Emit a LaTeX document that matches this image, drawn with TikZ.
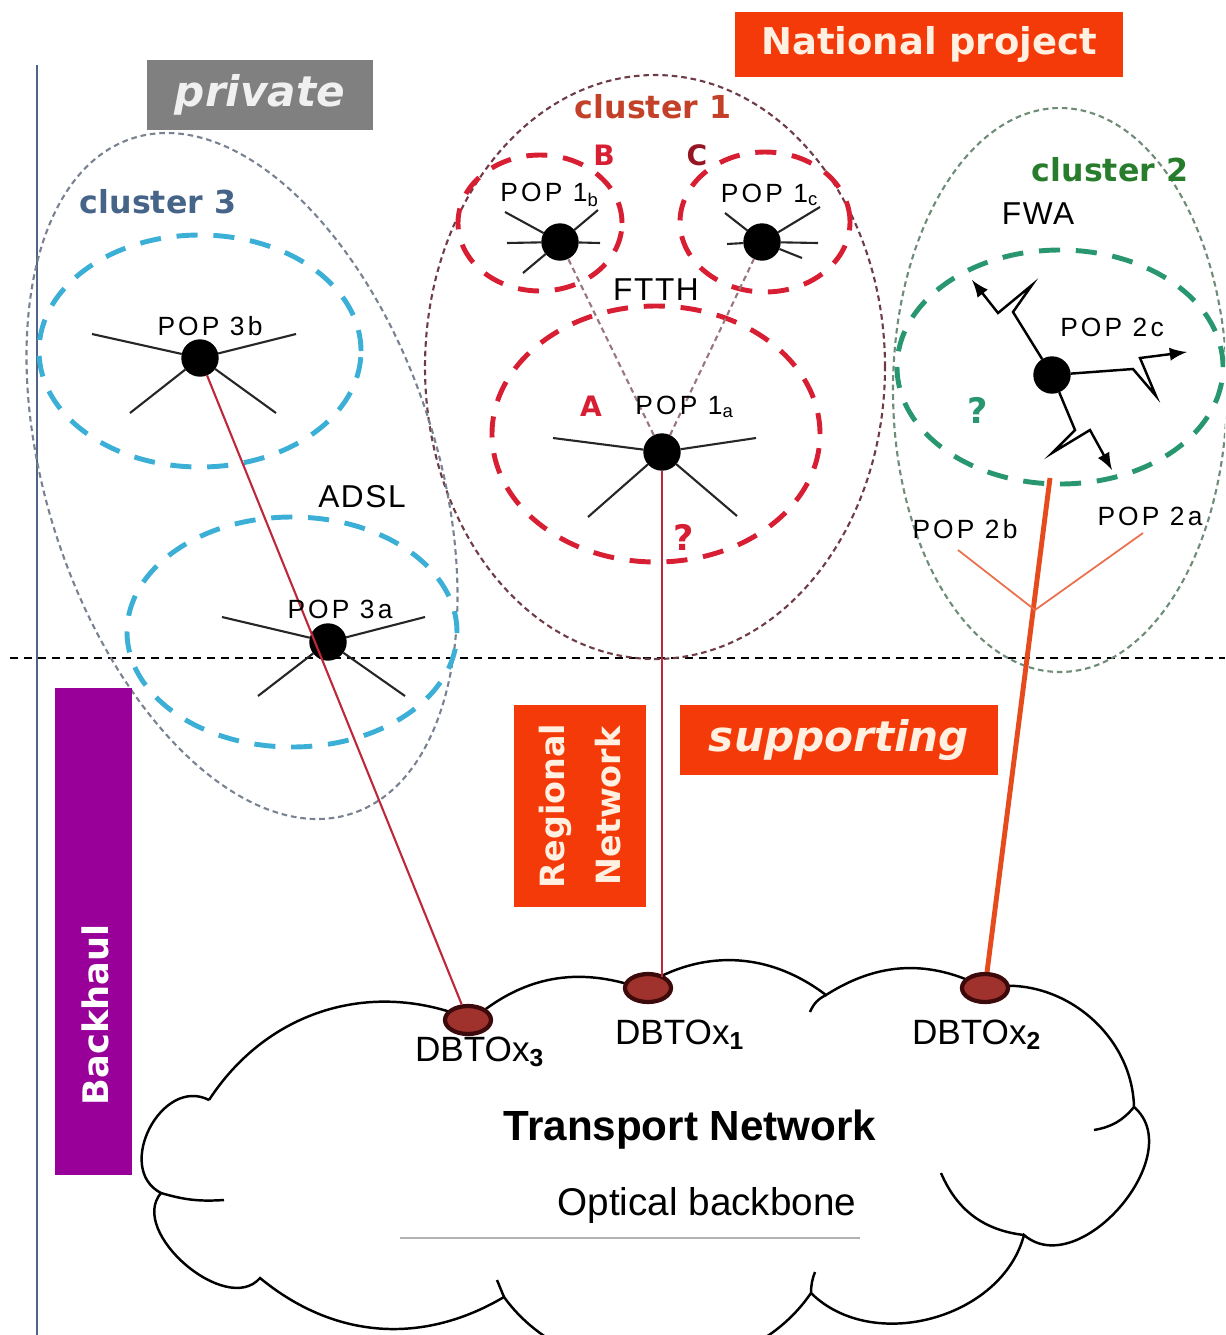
\documentclass[tikz,border=0pt]{standalone}
\usepackage{fontspec}
\setmainfont{Liberation Sans}
\newfontfamily\popfont[LetterSpace=12]{Liberation Sans}
\newfontfamily\techfont[LetterSpace=5]{Liberation Sans}
\newfontfamily\headfont{DejaVu Sans}
\usetikzlibrary{shapes, arrows}

\definecolor{natred}{RGB}{245,58,10}
\definecolor{privgray}{RGB}{128,128,128}
\definecolor{backpurple}{RGB}{153,0,153}
\definecolor{boxtext}{RGB}{255,240,225}
\definecolor{ringred}{RGB}{215,30,50}
\definecolor{ringcyan}{RGB}{60,175,215}
\definecolor{ringgreen}{RGB}{40,150,110}
\definecolor{clusterone}{RGB}{110,60,70}
\definecolor{clustertwo}{RGB}{110,140,120}
\definecolor{clusterthree}{RGB}{120,130,145}
\definecolor{linkred}{RGB}{190,40,60}
\definecolor{feedorange}{RGB}{230,75,30}
\definecolor{dbfill}{RGB}{160,50,45}
\definecolor{dbline}{RGB}{60,10,10}
\definecolor{axisblue}{RGB}{80,100,135}
\definecolor{labone}{RGB}{195,65,40}
\definecolor{labtwo}{RGB}{40,125,45}
\definecolor{labthree}{RGB}{70,100,135}

\begin{document}
\begin{tikzpicture}[x=0.1mm, y=-0.1mm,
    pop/.style = {draw, circle, fill=black, minimum size=3.6mm, inner sep=0pt},
    dbto/.style = {draw=dbline, ellipse, fill=dbfill, line width=1.2pt, minimum width=4.6mm, minimum height=2.8mm, inner sep=0pt},
    poplabel/.style = {font=\popfont\fontsize{7.5}{9}\selectfont},
    tech/.style = {font=\techfont\fontsize{9}{11}\selectfont},
    dblabel/.style = {font=\fontsize{10}{12}\selectfont},
    cluster/.style = {font=\headfont\bfseries\fontsize{9}{11}\selectfont},
    tag/.style = {font=\headfont\bfseries\fontsize{8}{10}\selectfont, text=ringred},
    banner/.style = {text=boxtext, inner sep=0pt, font=\headfont\bfseries\fontsize{10.5}{12}\selectfont},
    ring/.style = {draw, ellipse, inner sep=0pt, dash pattern=on 6pt off 4.5pt, line width=1.4pt},
    hull/.style = {draw, ellipse, inner sep=0pt, dash pattern=on 1.6pt off 1.1pt, line width=0.6pt},
    spoke/.style = {line width=0.6pt, black!85},
    link/.style = {linkred, line width=0.6pt},
    radio/.style = {line width=0.7pt, -latex},
    cloudline/.style = {line width=0.7pt}
]
\useasboundingbox (0,0) rectangle (1225,1335);
\clip (0,0) rectangle (1225,1335);

\coordinate (axtop) at (37,65);
\coordinate (axbot) at (37,1335);
\coordinate (sepL) at (10,658);
\coordinate (sepR) at (1225,658);
\draw[axisblue, line width=0.6pt] (axtop) -- (axbot);
\draw[dash pattern=on 2.3pt off 1.7pt, line width=0.6pt] (sepL) -- (sepR);

\draw[cloudline] (209,1100) to[bend left=40] (472,1020) to[bend left=30] (640,988)
    to[bend left=35] (826,995) to[bend left=30] (985,988) to[bend left=50] (1134,1107)
    to[bend left=90, looseness=1.1] (1024,1235) to[bend left=60] (811,1293) to[bend left=55] (504,1297)
    to[bend left=35] (260,1278) to[bend left=90] (161,1193) to[bend left=90, looseness=1.3] (209,1100);
\draw[cloudline] (826,995) to[bend right=20] (810,1012);
\draw[cloudline] (1134,1107) to[bend left=20] (1094,1130);
\draw[cloudline] (1024,1235) to[bend left=30] (941,1173);
\draw[cloudline] (811,1293) to[bend left=10] (815,1272);
\draw[cloudline] (161,1193) to[bend right=10] (224,1200);
\draw[cloudline] (504,1297) -- (497,1280);
\draw[gray!60, line width=0.5pt] (400,1238) -- (860,1238);

\node[hull, clusterone, minimum width=46mm, minimum height=58.4mm] at (655,367) (c1hull) {};
\node[hull, clustertwo, minimum width=33.4mm, minimum height=56.4mm] at (1060,390) (c2hull) {};
\node[hull, clusterthree, rotate=18, minimum width=39mm, minimum height=71mm] at (242,476) (c3hull) {};

\node[ring, ringred, minimum width=16.4mm, minimum height=13.6mm] at (540,223) (ringB) {};
\node[ring, ringred, minimum width=17mm, minimum height=14mm] at (765,222) (ringC) {};
\node[ring, ringred, minimum width=32.8mm, minimum height=25.6mm] at (656,434) (ringA) {};
\node[ring, ringcyan, minimum width=32.2mm, minimum height=23.2mm] at (200,351) (ring3b) {};
\node[ring, ringcyan, minimum width=33mm, minimum height=23mm] at (292,632) (ring3a) {};
\node[ring, ringgreen, minimum width=32.6mm, minimum height=23.4mm] at (1060,367) (ring2) {};

\node[pop] at (560,242) (p1b) {};
\node[pop] at (762,242) (p1c) {};
\node[pop] at (662,452) (p1a) {};
\node[pop] at (200,358) (p3b) {};
\node[pop] at (328,642) (p3a) {};
\node[pop] at (1052,375) (p2c) {};

\node[dbto] at (468,1020) (dx3) {};
\node[dbto] at (648,988) (dx1) {};
\node[dbto] at (985,988) (dx2) {};

\coordinate (feedtop) at (1050,478);
\coordinate (fork) at (1035,610);
\coordinate (tob) at (958,550);
\coordinate (toa) at (1143,533);

\draw[spoke] (p3b) -- +(-108,-24) (p3b) -- +(96,-24) (p3b) -- +(-70,55) (p3b) -- +(76,55);
\draw[spoke] (p3a) -- +(-106,-25) (p3a) -- +(97,-25) (p3a) -- +(-70,54) (p3a) -- +(77,54);
\draw[spoke] (p1a) -- +(-109,-14) (p1a) -- +(94,-14) (p1a) -- +(-74,65) (p1a) -- +(75,64);
\draw[spoke] (p1b) -- +(-55,-30) (p1b) -- +(-53,1) (p1b) -- +(-37,31) (p1b) -- +(38,-32) (p1b) -- +(40,1);
\draw[spoke] (p1c) -- +(-37,-29) (p1c) -- +(-35,2) (p1c) -- +(58,-35) (p1c) -- +(56,1) (p1c) -- +(40,16);

\draw[clusterone!70, line width=0.6pt, dash pattern=on 1.6pt off 1.1pt] (p1a) -- (p1b);
\draw[clusterone!70, line width=0.6pt, dash pattern=on 1.6pt off 1.1pt] (p1a) -- (p1c);

\draw[link] (p3b) -- (dx3);
\draw[link] (p1a) -- (p1a |- dx1.north east);
\draw[feedorange, line width=1.4pt] (dx2) -- (feedtop);
\draw[feedorange!80, line width=0.5pt] (fork) -- (tob);
\draw[feedorange!80, line width=0.5pt] (fork) -- (toa);

\draw[radio] (p2c) -- +(-39,-63) -- +(-20,-90) -- +(-54,-62) -- +(-80,-95);
\draw[radio] (p2c) -- +(81,-6) -- +(104,21) -- +(88,-17) -- +(135,-23);
\draw[radio] (p2c) -- +(23,55) -- +(0,78) -- +(38,55) -- +(60,95);

\node[poplabel] at (210,326) (l3b) {POP 3b};
\node[poplabel] at (340,609) (l3a) {POP 3a};
\node[poplabel] at (550,195) (l1b) {POP 1\textsubscript{b}};
\node[poplabel] at (770,195) (l1c) {POP 1\textsubscript{c}};
\node[poplabel] at (685,407) (l1a) {POP 1\textsubscript{a}};
\node[poplabel] at (1112,327) (l2c) {POP 2c};
\node[poplabel] at (965,529) (l2b) {POP 2b};
\node[poplabel] at (1150,516) (l2a) {POP 2a};

\node[tech] at (656,290) (ftth) {FTTH};
\node[tech] at (362,497) (adsl) {ADSL};
\node[tech] at (1038,214) (fwa) {FWA};

\node[tag] at (591,406) (tagA) {A};
\node[tag] at (604,155) (tagB) {B};
\node[tag, text=ringred!70!black] at (697,155) (tagC) {C};
\node[tag, font=\headfont\bfseries\fontsize{10}{12}\selectfont] at (684,537) (qred) {?};
\node[tag, text=ringgreen, font=\headfont\bfseries\fontsize{10}{12}\selectfont] at (978,410) (qgreen) {?};

\node[cluster, text=labone] at (653,107) (n1) {cluster 1};
\node[cluster, text=labtwo] at (1110,170) (n2) {cluster 2};
\node[cluster, text=labthree] at (158,202) (n3) {cluster 3};

\node[dblabel] at (480,1052) (t3) {DBTOx\textsubscript{\textbf{3}}};
\node[dblabel] at (680,1035) (t1) {DBTOx\textsubscript{\textbf{1}}};
\node[dblabel] at (977,1035) (t2) {DBTOx\textsubscript{\textbf{2}}};
\node[font=\bfseries\fontsize{12}{14}\selectfont] at (690,1130) (tn) {Transport Network};
\node[font=\fontsize{11}{13}\selectfont] at (707,1205) (ob) {Optical backbone};

\node[banner, fill=natred, minimum width=38.8mm, minimum height=6.5mm] at (929,44) (national) {National project};
\node[banner, fill=privgray, text=white!94!black, minimum width=22.6mm, minimum height=7mm, font=\headfont\bfseries\itshape\fontsize{12}{14}\selectfont] at (260,95) (private) {private};
\node[banner, fill=natred, minimum width=31.8mm, minimum height=7mm, font=\headfont\bfseries\itshape\fontsize{12}{14}\selectfont] at (839,740) (supporting) {supporting};
\node[banner, fill=natred, rotate=90, minimum width=20.2mm, minimum height=13.2mm, align=center, font=\headfont\bfseries\fontsize{9.5}{16}\selectfont] at (580,806) (regional) {Regional\\Network};
\node[fill=backpurple, minimum width=7.7mm, minimum height=48.7mm, inner sep=0pt] at (93,931) (backhaul) {};
\node[banner, rotate=90, text=white, font=\headfont\bfseries\fontsize{10}{12}\selectfont] at (95,1015) (backtxt) {Backhaul};
\end{tikzpicture}
\end{document}
